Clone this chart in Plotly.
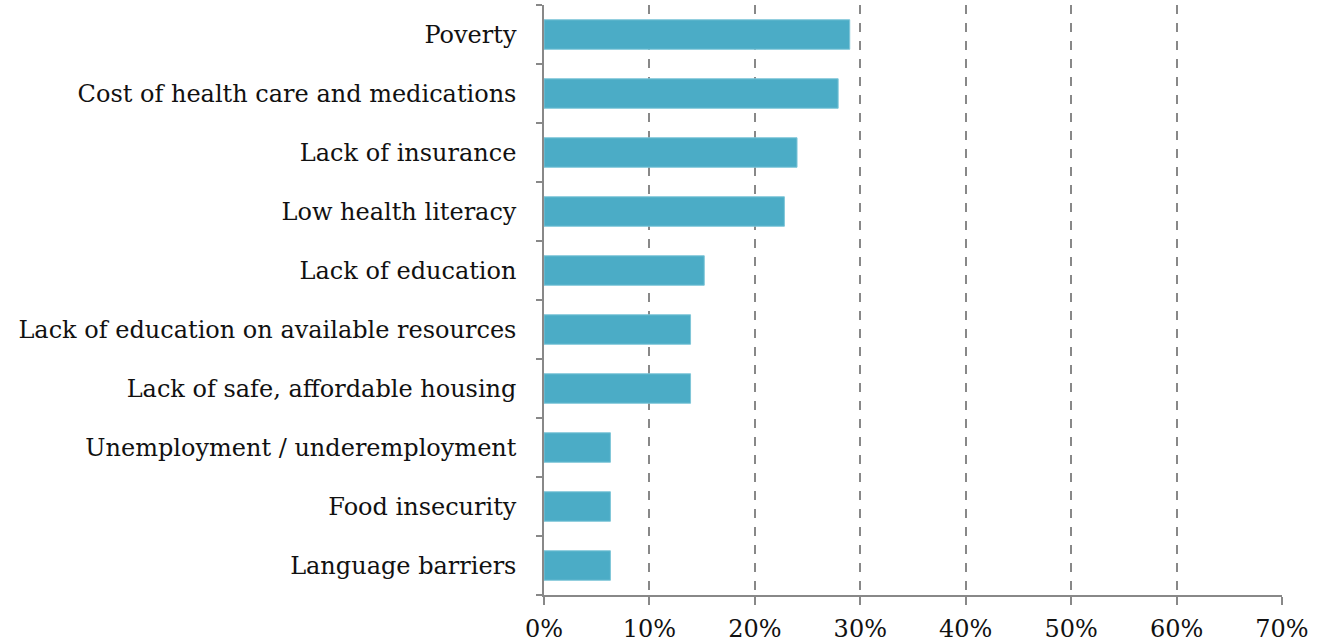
import plotly.graph_objects as go

categories = ["Poverty", "Cost of health care and medications", "Lack of insurance",
              "Low health literacy", "Lack of education",
              "Lack of education on available resources",
              "Lack of safe, affordable housing", "Unemployment / underemployment",
              "Food insecurity", "Language barriers"]
values = [0.290, 0.279, 0.240, 0.228, 0.152, 0.139, 0.139, 0.063, 0.063, 0.063]
x_ticks = [0, 0.1, 0.2, 0.3, 0.4, 0.5, 0.6, 0.7]
x_ticklabels = ["0%", "10%", "20%", "30%", "40%", "50%", "60%", "70%"]

fig = go.Figure(go.Bar(
    y=categories, x=values, orientation="h",
    marker=dict(color="#4BACC6", line=dict(color="#7FC6D8", width=1)),
    width=0.5,
))

fig.update_layout(
    width=1327, height=644,
    margin=dict(l=544, r=45, t=5, b=49, autoexpand=False),
    paper_bgcolor="white", plot_bgcolor="white",
    font=dict(family="DejaVu Serif, Liberation Serif, serif", size=24, color="#111111"),
    showlegend=False,
)
fig.update_xaxes(
    range=[0, 0.7], tickvals=x_ticks, ticktext=x_ticklabels,
    showgrid=True, gridcolor="#888888", griddash="dash", gridwidth=1.5,
    showline=True, linecolor="#888888", linewidth=1.5,
    ticks="outside", ticklen=8, tickcolor="#888888", tickwidth=1.5,
    ticklabelstandoff=3, zeroline=False, automargin=False,
)
fig.update_yaxes(
    categoryorder="array", categoryarray=categories[::-1],
    showline=True, linecolor="#888888", linewidth=1.5,
    ticks="outside", ticklen=6, tickcolor="#888888", tickwidth=1.5,
    tickson="boundaries", ticklabelstandoff=21, showgrid=False, automargin=False,
)

fig.write_html(
    "out.html",
    config={"displayModeBar": False},
    post_script="document.body.style.margin='0';document.body.style.overflow='hidden';",
)
